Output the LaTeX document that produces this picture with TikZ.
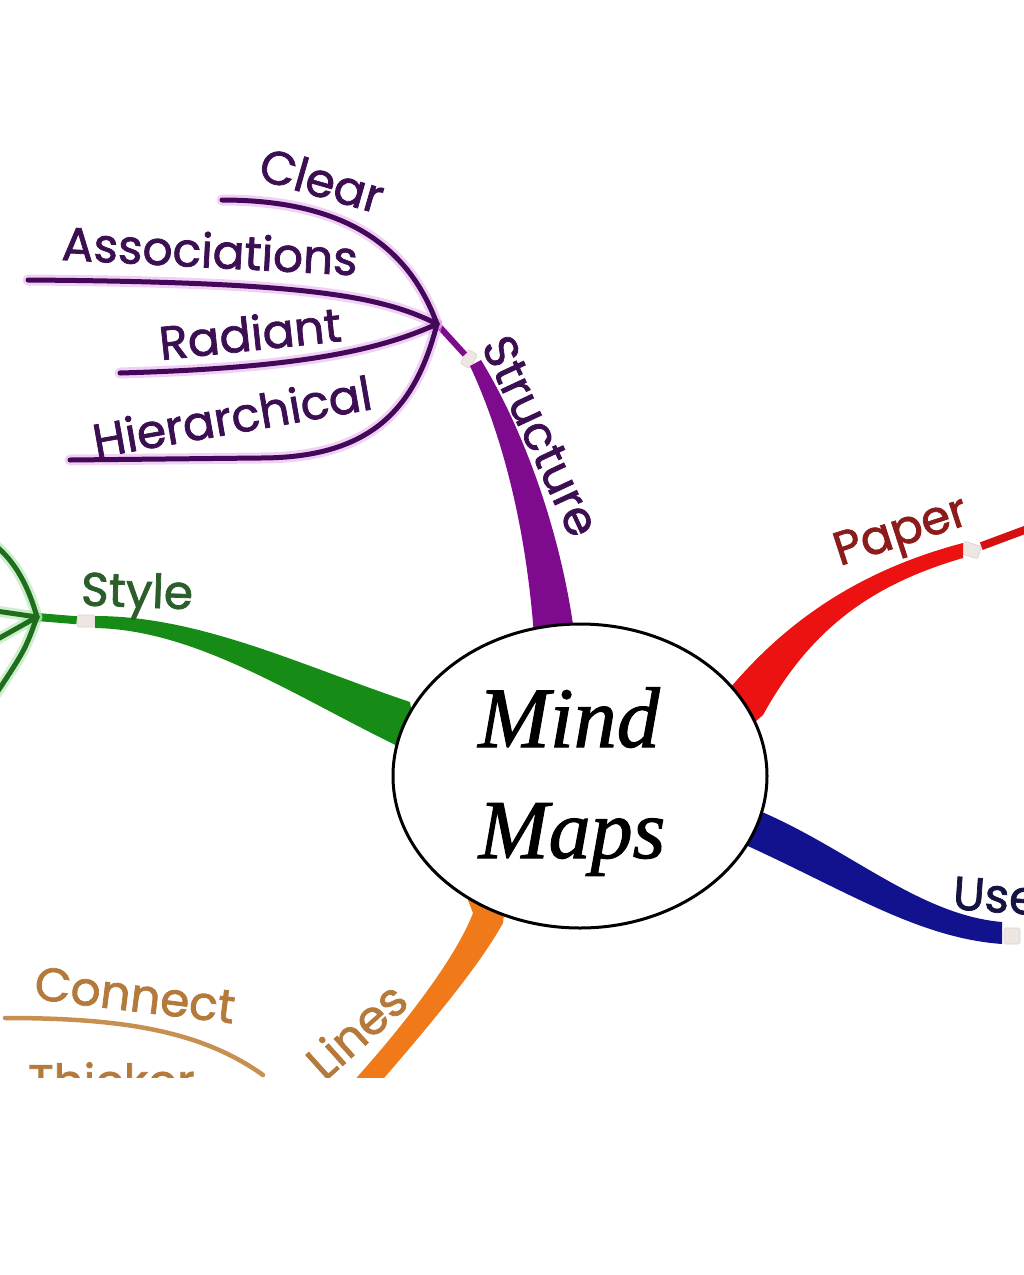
\documentclass[tikz,border=0pt]{standalone}
\usepackage{fontspec}
\setmainfont{Liberation Serif}
\newfontfamily\hand{Poppins}[FakeBold=1.6]
\newfontfamily\ctrfont{Liberation Serif}[FakeBold=1.2]
\usetikzlibrary{shapes.geometric}
\definecolor{purpB}{HTML}{7E0A8E}
\definecolor{purpL}{HTML}{44085A}
\definecolor{purpH}{HTML}{E2A4EA}
\definecolor{purpT}{HTML}{3C0F52}
\definecolor{grnB}{HTML}{168C16}
\definecolor{grnL}{HTML}{1E6E1E}
\definecolor{grnH}{HTML}{9FE09F}
\definecolor{grnT}{HTML}{2B5E2B}
\definecolor{redB}{HTML}{EC1212}
\definecolor{redT}{HTML}{8C1C1C}
\definecolor{bluB}{HTML}{12128E}
\definecolor{bluT}{HTML}{141440}
\definecolor{orgB}{HTML}{F07A1A}
\definecolor{orgL}{HTML}{C89050}
\definecolor{orgT}{HTML}{B47A3C}
\definecolor{mark}{HTML}{EEE6E2}
\tikzset{
  lbl/.style={font=\hand\fontsize{47}{52}\selectfont, inner sep=0pt},
  thinbr/.style={line width=5pt, line cap=round},
  halo/.style={line width=11pt, line cap=round, opacity=0.5},
  mk/.style={rectangle, rounded corners=2pt, fill=mark, draw=mark!80!gray, line width=0.6pt, inner sep=0pt, minimum width=16pt, minimum height=11pt},
}
\begin{document}
\begin{tikzpicture}[x=1pt,y=-1pt]
\useasboundingbox (0,0) rectangle (1024,1275);
\fill[white] (0,0) rectangle (1024,1275);
\begin{scope}
\clip (0,0) rectangle (1024,1077);

% ---------- coordinates ----------
\coordinate (pj) at (437,324);
\coordinate (clearE) at (222,200);
\coordinate (assocE) at (28,280);
\coordinate (radE) at (120,373);
\coordinate (hierM) at (260,458);
\coordinate (hierE) at (70,460);
\coordinate (gj) at (37,617);
\coordinate (g1) at (-4,546);
\coordinate (g2) at (-4,611);
\coordinate (g3) at (-4,640);
\coordinate (g4) at (-4,694);
\coordinate (redE) at (1030,528);
\coordinate (conS) at (5,1018);
\coordinate (conE) at (263,1075);

% ---------- markers ----------
\node[mk, rotate=60] (pm) at (469,359) {};
\node[mk, minimum width=18pt, minimum height=12pt] (gm) at (86,621) {};
\node[mk, rotate=-18, minimum width=18pt, minimum height=13pt] (rm) at (971,550) {};
\node[mk, minimum width=16pt, minimum height=16pt] (bm) at (1012,936) {};

% ---------- purple (Structure) ----------
\fill[purpB] (470,366) .. controls (500,430) and (530,530) .. (536,670)
  -- (578,670) .. controls (570,560) and (530,440) .. (481,360) -- cycle;
\draw[purpB, line width=6pt] (pj) -- (pm);
\draw[purpH, halo] (pj) .. controls (410,250) and (350,200) .. (clearE);
\draw[purpH, halo] (pj) .. controls (380,295) and (300,282) .. (assocE);
\draw[purpH, halo] (pj) .. controls (380,350) and (300,368) .. (radE);
\draw[purpH, halo] (pj) .. controls (415,410) and (370,458) .. (hierM) -- (hierE);
\draw[purpL, thinbr] (pj) .. controls (410,250) and (350,200) .. (clearE);
\draw[purpL, thinbr] (pj) .. controls (380,295) and (300,282) .. (assocE);
\draw[purpL, thinbr] (pj) .. controls (380,350) and (300,368) .. (radE);
\draw[purpL, thinbr] (pj) .. controls (415,410) and (370,458) .. (hierM) -- (hierE);

% ---------- green (Style) ----------
\fill[grnB] (95,616) .. controls (200,616) and (300,665) .. (410,702)
  -- (420,760) -- (410,752) .. controls (300,700) and (200,630) .. (95,628) -- cycle;
\draw[grnB, line width=8pt] (gj) -- (gm);
\draw[grnH, halo] (gj) .. controls (28,585) and (15,562) .. (g1);
\draw[grnH, halo] (gj) -- (g2);
\draw[grnH, halo] (gj) -- (g3);
\draw[grnH, halo] (gj) .. controls (25,650) .. (g4);
\draw[grnL, thinbr] (gj) .. controls (28,585) and (15,562) .. (g1);
\draw[grnL, thinbr] (gj) -- (g2);
\draw[grnL, thinbr] (gj) -- (g3);
\draw[grnL, thinbr] (gj) .. controls (25,650) .. (g4);

% ---------- red (Paper) ----------
\fill[redB] (715,705) -- (737,680) .. controls (790,620) and (860,570) .. (963,543)
  -- (963,558) .. controls (870,585) and (810,630) .. (763,715) -- (740,735) -- cycle;
\draw[redB!90!black, line width=8pt] (rm) -- (redE);

% ---------- blue (Use) ----------
\fill[bluB] (745,800) -- (762,812) .. controls (850,850) and (920,915) .. (1002,922)
  -- (1002,944) .. controls (920,938) and (850,893) .. (750,847) -- (735,840) -- cycle;

% ---------- orange (Lines) ----------
\fill[orgB] (468,900) -- (473,913) .. controls (455,960) and (400,1030) .. (350,1085)
  -- (378,1085) .. controls (430,1025) and (480,965) .. (503,923) -- (505,905) -- cycle;
\draw[orgL, line width=4.5pt, line cap=round] (conS) .. controls (120,1018) and (200,1030) .. (conE);

% ---------- centre ----------
\node[ellipse, draw=black, line width=3pt, fill=white, minimum width=374pt, minimum height=304pt] (ctr) at (580,776) {};
\node[font=\ctrfont\itshape\fontsize{86}{90}\selectfont, anchor=base, inner sep=0pt] (mind) at (569,747) {Mind};
\node[font=\ctrfont\itshape\fontsize{84}{90}\selectfont, anchor=base, inner sep=0pt] (maps) at (572,858) {Maps};

% ---------- labels ----------
\node[lbl, text=purpT, rotate=-16] (clear) at (322,180) {Clear};
\node[lbl, text=purpT, rotate=-3] (assoc) at (210,250) {Associations};
\node[lbl, text=purpT, rotate=6] (rad) at (250,333) {Radiant};
\node[lbl, text=purpT, rotate=10] (hier) at (232,416) {Hierarchical};
\node[lbl, text=purpT, rotate=-65] (struct) at (541,436) {Structure};
\node[lbl, text=grnT, rotate=-2] (style) at (137,596) {Style};
\node[lbl, text=redT, rotate=18] (paper) at (902,535) {Paper};
\node[lbl, text=bluT, rotate=-4, anchor=west] (use) at (953,893) {Use};
\node[lbl, text=orgT, rotate=-7] (connect) at (135,995) {Connect};
\node[lbl, text=orgT, rotate=42] (lines) at (356,1030) {Lines};
\node[lbl, text=orgT, anchor=base west] (thick) at (28,1098) {Thicker};
\end{scope}
\end{tikzpicture}
\end{document}
